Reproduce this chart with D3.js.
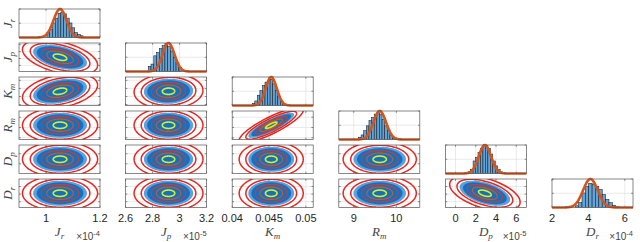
<!DOCTYPE html>
<html><head><meta charset="utf-8">
<script src="https://cdn.jsdelivr.net/npm/d3@7"></script>
<style>body{margin:0;background:#fff} svg{display:block}</style>
</head><body><svg id="c" width="640" height="242"></svg>
<script>
// ---- data ----
const labelMain = ["J","J","K","R","D","D"];
const labelSub  = ["r","p","m","m","p","r"];
const exponents = ["-4","-5",null,null,"-5","-4"];
const domains   = [[0.9,1.2],[2.6,3.2],[0.04,0.051],[8.65,10.55],[-1,7],[2,6.45]];
const tickVals  = [[1,1.2],[2.6,2.8,3,3.2],[0.04,0.045,0.05],[9,10],[0,2,4,6],[2,4,6]];
const tickLabels= [["1","1.2"],["2.6","2.8","3","3.2"],["0.04","0.045","0.05"],["9","10"],["0","2","4","6"],["2","4","6"]];
const means     = [1.052, 2.918, 0.0453, 9.61, 2.9, 4.11];
const sds       = [0.024, 0.044, 0.00075, 0.148, 0.6, 0.4];
const binStart  = [1.0035, 2.7677, 0.04272, 9.112, 1.25, 3.278];
const binWidth  = [0.0103, 0.0206, 0.000347, 0.0614, 0.243, 0.185];
const countsJr = [170,280,510,680,850,875,830,680,510,340,170,110,60];
const countsJp = [180,260,550,660,800,910,980,890,720,490,320,150];
const countsKm = [70,160,360,520,700,820,880,920,760,520,310,160,60];
const countsRm = [80,160,310,480,660,770,890,940,890,710,480,310,160,50];
const countsDp = [60,150,440,560,740,880,980,980,880,680,440,270,150,60];
const countsDr = [60,170,510,740,850,820,740,630,450,280,170,80,30];
const fitPeak  = [1000,1000,1000,1000,1000,1000];
const corr = [
  [1,   -0.45, 0.35, 0,    0,    0],
  [-0.45,1,    0.05, 0,    0,    0],
  [0.35, 0.05, 1,    0.85, 0,    0],
  [0,    0,    0.85, 1,    0,    0],
  [0,    0,    0,    0,    1,   -0.5],
  [0,    0,    0,    0,   -0.5,  1]
];
const ellipseLevels = [5.8, 4.6, 2.9, 2.05, 1.05];
const cloudLevels   = [4.15, 3.6];

// ---- styles / layout ----
const histCounts = [countsJr,countsJp,countsKm,countsRm,countsDp,countsDr];
const ellipseColors = ["#e8261f","#e8261f","#d23a2c","#d9531e","#e0ec1e"];
const ellipseWidths = [1.5,1.5,1.2,1.2,1.6];
const cloudColors = ["#5c9fdb","#1271c2"];
const W = 81, H = 28.5;
const colLeft = j => 19 + 106.6*j;
const rowTop  = i => 9 + 34*i;
const n = 6;

const svg = d3.select("#c");
svg.append("rect").attr("width",640).attr("height",242).attr("fill","#fff");
const defs = svg.append("defs");
const tSteps = d3.range(0, 97).map(k => k/96*2*Math.PI);

function ellipsePts(i,j,k){
  const r = corr[i][j];
  const s = Math.sqrt(1-r*r);
  return tSteps.map(t => [means[j] + k*sds[j]*Math.cos(t),
                          means[i] + k*sds[i]*(r*Math.cos(t) + s*Math.sin(t))]);
}

for (let i=0;i<n;i++){
  for (let j=0;j<=i;j++){
    const x0 = colLeft(j), y0 = rowTop(i);
    const x = d3.scaleLinear().domain(domains[j]).range([x0, x0+W]);
    let y;
    if (i===j) y = d3.scaleLinear().domain([0, fitPeak[j]]).range([y0+H, y0]);
    else y = d3.scaleLinear().domain([means[i]-4.7*sds[i], means[i]+4.7*sds[i]]).range([y0+H, y0]);
    const g = svg.append("g");
    const cid = "clip"+i+"_"+j;
    defs.append("clipPath").attr("id",cid).append("rect")
      .attr("x",x0).attr("y",y0).attr("width",W).attr("height",H);
    const yt = y.ticks(i===j?2:3);
    g.selectAll(".gx").data(tickVals[j].filter(v=>v>domains[j][0]&&v<domains[j][1])).enter()
      .append("line").attr("x1",d=>x(d)).attr("x2",d=>x(d)).attr("y1",y0).attr("y2",y0+H)
      .attr("stroke","#dcdcdc").attr("stroke-width",0.6);
    g.selectAll(".gy").data(yt.filter(v=>y(v)>y0+0.5&&y(v)<y0+H-0.5)).enter()
      .append("line").attr("x1",x0).attr("x2",x0+W).attr("y1",d=>y(d)).attr("y2",d=>y(d))
      .attr("stroke","#dcdcdc").attr("stroke-width",0.6);
    const inner = g.append("g").attr("clip-path","url(#"+cid+")");
    if (i===j){
      const bins = histCounts[j].map((c,k)=>({x0:binStart[j]+k*binWidth[j], x1:binStart[j]+(k+1)*binWidth[j], c}));
      inner.selectAll("rect.bar").data(bins).enter().append("rect")
        .attr("x",d=>x(d.x0)).attr("width",d=>x(d.x1)-x(d.x0))
        .attr("y",d=>y(d.c)).attr("height",d=>y(0)-y(d.c))
        .attr("fill","#5fa4da").attr("stroke","#1a1a1a").attr("stroke-width",0.55);
    } else {
      const line = d3.line().x(d=>x(d[0])).y(d=>y(d[1]));
      cloudLevels.forEach((k,idx)=>{
        inner.append("path").attr("d",line(ellipsePts(i,j,k))).attr("fill",cloudColors[idx]);
      });
      ellipseLevels.forEach((k,idx)=>{
        inner.append("path").attr("d",line(ellipsePts(i,j,k))).attr("fill","none")
          .attr("stroke",ellipseColors[idx]).attr("stroke-width",ellipseWidths[idx]);
      });
    }
    tickVals[j].forEach(v=>{
      if (v<domains[j][0]||v>domains[j][1]) return;
      g.append("line").attr("x1",x(v)).attr("x2",x(v)).attr("y1",y0+H).attr("y2",y0+H-1.8).attr("stroke","#444").attr("stroke-width",0.6);
      g.append("line").attr("x1",x(v)).attr("x2",x(v)).attr("y1",y0).attr("y2",y0+1.8).attr("stroke","#444").attr("stroke-width",0.6);
    });
    yt.forEach(v=>{
      if (y(v)<y0-0.1||y(v)>y0+H+0.1) return;
      g.append("line").attr("x1",x0).attr("x2",x0+1.8).attr("y1",y(v)).attr("y2",y(v)).attr("stroke","#444").attr("stroke-width",0.6);
      g.append("line").attr("x1",x0+W).attr("x2",x0+W-1.8).attr("y1",y(v)).attr("y2",y(v)).attr("stroke","#444").attr("stroke-width",0.6);
    });
    if (i===j){
      const xs = d3.range(0,201).map(k=>domains[j][0]+(domains[j][1]-domains[j][0])*k/200);
      const curve = d3.line().x(d=>x(d)).y(d=>y(fitPeak[j]*Math.exp(-0.5*Math.pow((d-means[j])/sds[j],2))));
      g.append("path").attr("d",curve(xs)).attr("fill","none").attr("stroke","#d95319").attr("stroke-width",2.6);
    }
    g.append("rect").attr("x",x0).attr("y",y0).attr("width",W).attr("height",H)
      .attr("fill","none").attr("stroke","#555").attr("stroke-width",0.7);
  }
}

for (let j=0;j<n;j++){
  const x0 = colLeft(j);
  const x = d3.scaleLinear().domain(domains[j]).range([x0, x0+W]);
  tickVals[j].forEach((v,k)=>{
    svg.append("text").attr("x",x(v)).attr("y",222).attr("text-anchor","middle")
      .attr("font-family","Liberation Sans, Arial, sans-serif").attr("font-size",11)
      .attr("fill","#262626").text(tickLabels[j][k]);
  });
  const t = svg.append("text").attr("x",x0+W/2).attr("y",236).attr("text-anchor","middle")
    .attr("font-family","Liberation Serif, Times New Roman, serif").attr("font-style","italic")
    .attr("font-size",13).attr("fill","#444");
  t.append("tspan").text(labelMain[j]);
  t.append("tspan").attr("dy",3).attr("font-size",9).text(labelSub[j]);
  if (exponents[j]){
    const e = svg.append("text").attr("x",x0+W).attr("y",240).attr("text-anchor","end")
      .attr("font-family","Liberation Sans, Arial, sans-serif").attr("font-size",10).attr("fill","#444");
    e.append("tspan").text("\u00d710");
    e.append("tspan").attr("dy",-4.5).attr("font-size",7.5).text(exponents[j]);
  }
}
for (let i=0;i<n;i++){
  const cy = rowTop(i)+H/2;
  const t = svg.append("text").attr("transform","translate(12,"+cy+") rotate(-90)")
    .attr("text-anchor","middle")
    .attr("font-family","Liberation Serif, Times New Roman, serif").attr("font-style","italic")
    .attr("font-size",13).attr("fill","#444");
  t.append("tspan").text(labelMain[i]);
  t.append("tspan").attr("dy",3).attr("font-size",9).text(labelSub[i]);
}
</script></body></html>
